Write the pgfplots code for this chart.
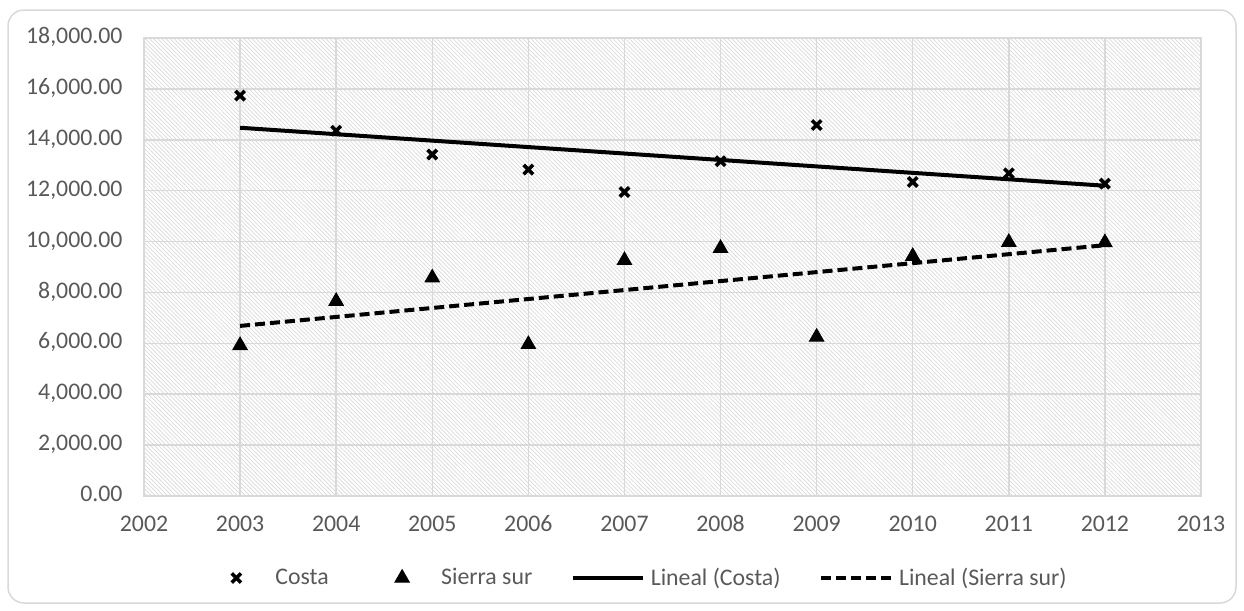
\documentclass[border=0pt]{standalone}
\usepackage{pgfplots}
\pgfplotsset{compat=1.18}
\usepackage{pgfplotstable}
\usepackage{fontspec}
\setmainfont{Carlito}
\usetikzlibrary{patterns,patterns.meta}
\definecolor{gridgray}{HTML}{D9D9D9}
\definecolor{txtgray}{HTML}{595959}
\definecolor{hatchgray}{HTML}{D9D9D9}

\pgfplotstableread{
year t costa sierra
2003 0 15737 5919
2004 1 14355 7656
2005 2 13421 8577
2006 3 12829 5959
2007 4 11947 9262
2008 5 13158 9736
2009 6 14579 6248
2010 7 12342 9420
2011 8 12684 9972
2012 9 12276 9960
}\datatable

\pgfplotsset{
  linelegend/.style={legend image code/.code={\draw[##1] (0pt,0pt) -- (35pt,0pt); \path[draw=none] (35pt,0pt) -- (37pt,0pt);}},
  marklegend/.style={legend image code/.code={\path[draw=none,fill=none] (0pt,-3pt) rectangle (35pt,3pt); \path[##1, only marks] plot coordinates {(17.5pt,0pt)};}},
}

\begin{document}
\begin{tikzpicture}
\path (0pt,0pt) rectangle (622pt,-305.5pt);
\draw[gridgray, line width=0.75pt, rounded corners=8pt] (4pt,-5pt) rectangle (618pt,-301.5pt);
\begin{axis}[
  at={(72pt,-248pt)}, anchor=south west,
  scale only axis, width=528.5pt, height=229pt,
  xmin=2002, xmax=2013, ymin=0, ymax=18000,
  xtick={2002,2003,...,2013},
  ytick={0,2000,...,18000},
  scaled y ticks=false,
  axis line style={gridgray, line width=0.75pt},
  major grid style={gridgray, line width=0.75pt},
  grid=major,
  major tick length=0pt,
  axis background/.style={pattern={Lines[angle=-45,distance=1.45pt,line width=0.35pt]}, pattern color=hatchgray},
  font=\fontsize{11.9}{14}\selectfont,
  tick label style={text=txtgray},
  typeset ticklabels with strut,
  /pgf/number format/assume math mode=true,
  xticklabel style={/pgf/number format/1000 sep={}, yshift=-4.4pt},
  yticklabel style={/pgf/number format/.cd, fixed, fixed zerofill, precision=2, 1000 sep={,}, /tikz/.cd, xshift=-7.2pt},
  legend style={at={(0.0539,-0.179)}, anchor=west, draw=none, fill=none, inner sep=0pt,
    legend columns=4, text=txtgray, font=\fontsize{11.9}{14}\selectfont,
    /tikz/every even column/.append style={column sep=17.2pt},
    /tikz/every odd column/.append style={column sep=0pt}},
  legend cell align=left,
]
\addplot[only marks, mark=x, mark size=3.3pt, line width=1.8pt, black, marklegend] table[x=year, y=costa] {\datatable};
\addlegendentry{Costa}
\addplot[only marks, mark=triangle*, mark size=4.2pt, black, marklegend] table[x=year, y=sierra] {\datatable};
\addlegendentry{Sierra sur}
\addplot[black, line width=2pt, no marks, linelegend] table[x=year, y={create col/linear regression={x=t, y=costa}}] {\datatable};
\addlegendentry{Lineal (Costa)}
\addplot[black, line width=2pt, no marks, dash pattern=on 5pt off 2.5pt, linelegend] table[x=year, y={create col/linear regression={x=t, y=sierra}}] {\datatable};
\addlegendentry{Lineal (Sierra sur)}
\end{axis}
\end{tikzpicture}
\end{document}
